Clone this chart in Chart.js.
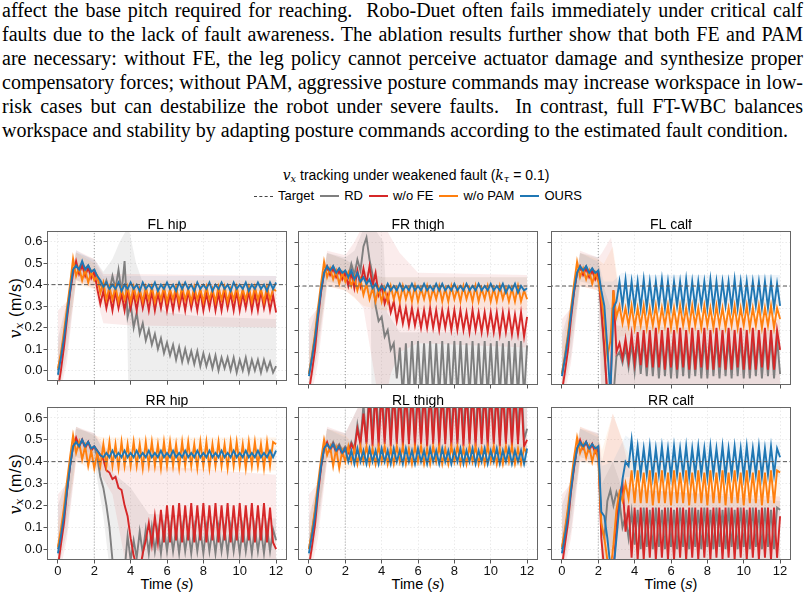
<!DOCTYPE html>
<html>
<head>
<meta charset="utf-8">
<script src="https://cdn.jsdelivr.net/npm/chart.js"></script>
<style>
  html,body{margin:0;padding:0;background:#fff;}
  body{width:806px;height:598px;overflow:hidden;position:relative;font-family:"Liberation Sans",Arial,sans-serif;color:#000;}
  #para{position:absolute;left:2px;top:-2px;width:801px;font-family:"Liberation Serif","Times New Roman",serif;font-size:20px;line-height:24px;}
  #para div{text-align:justify;text-align-last:justify;}
  #para div.last{text-align-last:left;}
  #suptitle{position:absolute;left:0;width:832px;top:166px;text-align:center;font-size:14px;line-height:18px;white-space:nowrap;}
  .m{font-family:"DejaVu Serif","Liberation Serif",serif;font-style:italic;}
  sub{font-size:0.7em;vertical-align:-0.2em;}
  #legend{position:absolute;left:0;width:836px;top:187px;display:flex;justify-content:center;align-items:center;font-size:13px;line-height:18px;white-space:nowrap;}
  .item{display:flex;align-items:center;margin:0 3px;}
  .sw{display:inline-block;width:19px;height:0;margin-right:5px;}
  .ylab{position:absolute;left:16px;transform:translate(-50%,-50%) rotate(-90deg);font-size:16px;letter-spacing:0.6px;white-space:nowrap;}
  .xlab{position:absolute;transform:translate(-50%,-50%);font-size:14.5px;white-space:nowrap;}
  canvas{position:absolute;}
</style>
</head>
<body>
<div id="para">
<div>affect the base pitch required for reaching.&nbsp; Robo-Duet often fails immediately under critical calf</div>
<div>faults due to the lack of fault awareness. The ablation results further show that both FE and PAM</div>
<div>are necessary: without FE, the leg policy cannot perceive actuator damage and synthesize proper</div>
<div>compensatory forces; without PAM, aggressive posture commands may increase workspace in low-</div>
<div>risk cases but can destabilize the robot under severe faults.&nbsp; In contrast, full FT-WBC balances</div>
<div class="last">workspace and stability by adapting posture commands according to the estimated fault condition.</div>
</div>

<div id="suptitle"><span class="m">v</span><sub class="m">x</sub> tracking under weakened fault (<span class="m">k</span><sub class="m">τ</sub> = 0.1)</div>
<div id="legend"></div>
<div class="ylab" style="top:308px"><span class="m">v</span><sub class="m">x</sub> (m/s)</div>
<div class="ylab" style="top:484px"><span class="m">v</span><sub class="m">x</sub> (m/s)</div>
<div class="xlab" style="left:167px;top:584px">Time (<span class="m">s</span>)</div>
<div class="xlab" style="left:418px;top:584px">Time (<span class="m">s</span>)</div>
<div class="xlab" style="left:671px;top:584px">Time (<span class="m">s</span>)</div>

<script>
// ---------------- data ----------------
const TIME_STEP = 1/6;              // sampling of the series below (s)
const X_TICKS = [0,2,4,6,8,10,12];
const Y_TICKS = [0,0.1,0.2,0.3,0.4,0.5,0.6];
const TARGET_VX = 0.4;
const FAULT_TIME = 2;
const PANEL_TITLES = ['FL hip','FR thigh','FL calf','RR hip','RL thigh','RR calf'];
const SERIES_NAMES = ['RD','w/o FE','w/o PAM','OURS'];

// ---- FL hip ----
const flHipRD = [0.00,0.07,0.16,0.27,0.38,0.47,0.49,0.47,0.50,0.47,0.49,0.46,0.47,
0.43,0.40,0.38,0.42,0.37,0.44,0.38,0.47,0.36,0.51,0.25,0.31,
0.20,0.27,0.17,0.22,0.14,0.19,0.12,0.17,0.10,0.15,0.08,0.13,
0.07,0.12,0.05,0.11,0.04,0.10,0.04,0.09,0.03,0.09,0.02,0.08,
0.02,0.07,0.01,0.07,0.00,0.06,0.01,0.06,0.00,0.06,-0.01,0.05,
0.00,0.06,-0.01,0.05,0.00,0.05,-0.01,0.05,0.00,0.04,-0.01,0.02];
const flHipFE = [-0.09,0.00,0.11,0.24,0.36,0.45,0.51,0.45,0.49,0.44,0.48,0.43,0.46,
0.38,0.31,0.37,0.29,0.36,0.28,0.37,0.29,0.36,0.28,0.37,0.29,
0.36,0.28,0.37,0.29,0.36,0.28,0.37,0.28,0.36,0.29,0.37,0.28,
0.36,0.28,0.37,0.29,0.36,0.28,0.37,0.29,0.36,0.28,0.37,0.28,
0.36,0.29,0.37,0.28,0.36,0.28,0.37,0.29,0.36,0.28,0.37,0.28,
0.36,0.29,0.37,0.28,0.36,0.28,0.37,0.29,0.36,0.28,0.35,0.27];
const flHipPAM = [0.01,0.08,0.18,0.29,0.40,0.52,0.44,0.48,0.42,0.47,0.41,0.46,0.42,
0.44,0.36,0.41,0.33,0.39,0.33,0.39,0.32,0.38,0.33,0.39,0.32,
0.39,0.33,0.38,0.32,0.39,0.33,0.39,0.32,0.38,0.33,0.39,0.32,
0.38,0.33,0.39,0.32,0.39,0.33,0.38,0.32,0.39,0.33,0.38,0.32,
0.39,0.33,0.38,0.32,0.39,0.33,0.39,0.32,0.38,0.33,0.39,0.32,
0.38,0.33,0.39,0.32,0.39,0.33,0.38,0.32,0.39,0.33,0.38,0.37];
const flHipOURS = [-0.02,0.06,0.15,0.26,0.37,0.47,0.49,0.47,0.51,0.47,0.49,0.46,0.47,
0.44,0.42,0.39,0.41,0.38,0.40,0.38,0.41,0.37,0.40,0.38,0.41,
0.38,0.40,0.37,0.41,0.38,0.40,0.38,0.41,0.37,0.40,0.38,0.41,
0.38,0.40,0.37,0.41,0.38,0.41,0.38,0.40,0.37,0.41,0.38,0.40,
0.38,0.41,0.37,0.40,0.38,0.41,0.38,0.40,0.37,0.41,0.38,0.40,
0.38,0.41,0.37,0.40,0.38,0.41,0.38,0.40,0.37,0.41,0.38,0.41];
// bands: [time, low, high]
const flHipRDBand = [[0,-0.12,0.15],[0.5,0.08,0.32],[1,0.42,0.55],[2,0.40,0.52],[2.5,0.35,0.46],[3,0.33,0.52],[3.4,0.32,0.60],[3.8,0.24,0.66],[3.9,-0.2,0.66],[4.3,-0.2,0.50],[5,-0.2,0.33],[6,-0.2,0.27],[8,-0.2,0.25],[12,-0.2,0.24]];
const flHipFEBand = [[0,-0.15,0.28],[0.5,0.04,0.32],[1,0.42,0.56],[2,0.38,0.52],[2.5,0.22,0.45],[4,0.21,0.45],[12,0.20,0.44]];
const flHipPAMBand = [[0,-0.06,0.10],[0.5,0.15,0.32],[1,0.40,0.55],[2,0.38,0.50],[2.5,0.30,0.42],[12,0.30,0.42]];
const flHipOURSBand = [[0,-0.05,0.04],[0.5,0.15,0.28],[1,0.45,0.56],[2,0.44,0.51],[2.5,0.37,0.44],[12,0.37,0.44]];

// ---- FR thigh ----
const frThighRD = [0.00,0.08,0.17,0.28,0.38,0.46,0.48,0.46,0.49,0.46,0.48,0.45,0.47,
0.44,0.50,0.45,0.52,0.47,0.58,0.62,0.52,0.45,0.31,0.24,0.26,
0.17,0.20,0.11,0.14,-0.02,0.12,-0.10,0.14,-0.10,0.15,-0.10,0.15,
-0.10,0.14,-0.10,0.15,-0.10,0.14,-0.10,0.15,-0.10,0.14,-0.10,0.15,
-0.10,0.15,-0.10,0.14,-0.10,0.15,-0.10,0.14,-0.10,0.15,-0.10,0.14,
-0.10,0.15,-0.10,0.14,-0.10,0.15,-0.10,0.14,-0.10,0.15,-0.10,0.13];
const frThighFE = [-0.08,0.01,0.11,0.25,0.37,0.46,0.49,0.45,0.48,0.44,0.47,0.43,0.46,
0.40,0.46,0.39,0.47,0.40,0.48,0.41,0.49,0.40,0.46,0.36,0.40,
0.32,0.36,0.28,0.33,0.24,0.31,0.23,0.30,0.22,0.30,0.22,0.29,
0.21,0.29,0.21,0.30,0.21,0.29,0.20,0.29,0.21,0.29,0.20,0.29,
0.20,0.29,0.20,0.28,0.19,0.29,0.20,0.28,0.19,0.28,0.19,0.28,
0.19,0.28,0.18,0.28,0.19,0.28,0.18,0.27,0.18,0.28,0.17,0.26];
const frThighPAM = [0.00,0.08,0.18,0.30,0.41,0.51,0.44,0.48,0.43,0.47,0.41,0.46,0.42,
0.46,0.40,0.44,0.38,0.43,0.36,0.41,0.34,0.39,0.33,0.39,0.33,
0.39,0.33,0.40,0.34,0.39,0.33,0.40,0.34,0.39,0.33,0.40,0.33,
0.39,0.34,0.40,0.33,0.39,0.34,0.40,0.33,0.39,0.33,0.40,0.34,
0.39,0.33,0.40,0.34,0.39,0.33,0.40,0.33,0.39,0.34,0.40,0.33,
0.39,0.33,0.40,0.34,0.39,0.33,0.39,0.33,0.40,0.33,0.38,0.34];
const frThighOURS = [-0.01,0.07,0.16,0.27,0.38,0.46,0.49,0.47,0.49,0.46,0.48,0.46,0.47,
0.44,0.47,0.43,0.46,0.42,0.44,0.41,0.43,0.39,0.41,0.38,0.40,
0.38,0.41,0.38,0.40,0.38,0.41,0.38,0.40,0.38,0.41,0.38,0.40,
0.38,0.41,0.38,0.40,0.38,0.41,0.38,0.41,0.38,0.40,0.38,0.41,
0.38,0.40,0.38,0.41,0.38,0.40,0.38,0.41,0.38,0.40,0.38,0.41,
0.38,0.40,0.38,0.41,0.37,0.40,0.38,0.41,0.37,0.40,0.38,0.39];
const frThighRDBand = [[0,-0.1,0.18],[0.5,0.1,0.32],[1,0.42,0.55],[2,0.40,0.53],[2.5,0.40,0.56],[3,0.42,0.66],[3.4,0.35,0.68],[3.45,-0.2,0.68],[4.1,-0.2,0.60],[4.3,-0.2,0.28],[5,-0.1,0.19],[12,-0.1,0.19]];
const frThighFEBand = [[0,-0.15,0.25],[0.5,0.05,0.30],[1,0.40,0.56],[2,0.38,0.54],[2.5,0.35,0.60],[3,0.30,0.68],[3.5,0.05,0.70],[4,-0.2,0.70],[4.5,0.0,0.62],[5,0.10,0.55],[6,0.14,0.46],[12,0.12,0.45]];
const frThighPAMBand = [[0,-0.06,0.10],[0.5,0.15,0.32],[1,0.40,0.55],[2,0.38,0.52],[3,0.31,0.47],[4,0.29,0.44],[12,0.29,0.44]];
const frThighOURSBand = [[0,-0.05,0.05],[0.5,0.15,0.28],[1,0.44,0.55],[2,0.43,0.52],[3,0.37,0.47],[4,0.36,0.44],[12,0.36,0.44]];

// ---- FL calf ----
const flCalfRD = [0.00,0.08,0.17,0.28,0.38,0.46,0.48,0.46,0.49,0.46,0.48,0.45,0.47,
0.28,0.10,-0.10,-0.10,-0.10,0.08,0.10,0.05,0.12,0.03,0.14,0.01,
0.15,0.00,0.16,-0.01,0.16,-0.01,0.17,-0.02,0.16,-0.01,0.17,-0.02,
0.17,-0.02,0.16,-0.01,0.17,-0.02,0.16,-0.01,0.17,-0.02,0.16,-0.02,
0.17,-0.01,0.16,-0.02,0.17,-0.01,0.16,-0.02,0.17,-0.01,0.16,-0.02,
0.17,-0.02,0.16,-0.01,0.17,-0.02,0.16,-0.01,0.17,-0.02,0.16,0.00];
const flCalfFE = [-0.08,0.01,0.11,0.25,0.37,0.46,0.49,0.45,0.48,0.44,0.47,0.43,0.46,
0.30,0.12,-0.10,-0.10,0.38,0.10,0.14,0.07,0.16,0.06,0.18,0.05,
0.19,0.04,0.20,0.03,0.20,0.03,0.21,0.03,0.20,0.02,0.21,0.03,
0.20,0.02,0.21,0.03,0.20,0.02,0.21,0.02,0.20,0.03,0.21,0.02,
0.20,0.02,0.21,0.03,0.20,0.02,0.21,0.02,0.20,0.03,0.21,0.02,
0.20,0.02,0.21,0.02,0.20,0.03,0.21,0.02,0.20,0.02,0.20,0.11];
const flCalfPAM = [0.00,0.08,0.18,0.30,0.41,0.51,0.44,0.48,0.43,0.47,0.41,0.46,0.42,
0.35,0.24,0.08,0.15,0.38,0.26,0.31,0.23,0.30,0.22,0.31,0.21,
0.30,0.22,0.31,0.21,0.30,0.22,0.31,0.21,0.30,0.22,0.31,0.21,
0.30,0.21,0.31,0.22,0.30,0.21,0.31,0.22,0.30,0.21,0.31,0.22,
0.30,0.21,0.31,0.22,0.30,0.21,0.30,0.22,0.31,0.21,0.30,0.22,
0.31,0.21,0.30,0.22,0.31,0.21,0.30,0.22,0.31,0.21,0.30,0.25];
const flCalfOURS = [-0.01,0.07,0.16,0.27,0.38,0.46,0.49,0.47,0.49,0.46,0.48,0.46,0.47,
0.38,0.31,0.12,-0.10,0.30,0.33,0.42,0.31,0.43,0.30,0.42,0.30,
0.42,0.30,0.43,0.30,0.42,0.30,0.42,0.31,0.43,0.30,0.42,0.30,
0.42,0.31,0.42,0.30,0.43,0.30,0.42,0.30,0.42,0.31,0.42,0.30,
0.43,0.30,0.42,0.30,0.42,0.31,0.42,0.30,0.43,0.30,0.42,0.30,
0.42,0.30,0.42,0.31,0.42,0.30,0.42,0.30,0.42,0.30,0.41,0.31];
const flCalfRDBand = [[0,-0.1,0.18],[0.5,0.08,0.32],[1,0.42,0.55],[2,0.40,0.53],[2.2,-0.2,0.42],[3,-0.2,0.22],[12,-0.2,0.20]];
const flCalfFEBand = [[0,-0.15,0.25],[0.5,0.05,0.30],[1,0.40,0.56],[2,0.38,0.53],[2.2,-0.2,0.55],[2.7,-0.2,0.62],[3.2,-0.2,0.33],[4,-0.1,0.26],[12,-0.1,0.25]];
const flCalfPAMBand = [[0,-0.06,0.12],[0.5,0.15,0.32],[1,0.40,0.55],[2,0.38,0.52],[2.3,0.0,0.50],[2.8,0.05,0.58],[3.2,0.17,0.36],[4,0.18,0.34],[12,0.18,0.34]];
const flCalfOURSBand = [[0,-0.05,0.06],[0.5,0.15,0.28],[1,0.44,0.55],[2,0.43,0.51],[2.3,0.05,0.42],[2.8,0.15,0.42],[3.3,0.31,0.46],[4,0.31,0.45],[12,0.31,0.45]];

// ---- RR hip ----
const rrHipRD = [0.00,0.07,0.16,0.27,0.38,0.47,0.49,0.47,0.50,0.47,0.49,0.46,0.47,
0.42,0.33,0.28,0.20,0.10,-0.05,-0.10,-0.10,-0.10,-0.10,0.06,-0.05,
0.04,-0.04,0.08,-0.02,0.09,-0.02,0.10,-0.01,0.09,-0.02,0.10,-0.01,
0.10,-0.01,0.09,-0.02,0.10,-0.01,0.09,-0.02,0.10,-0.01,0.09,-0.02,
0.10,-0.01,0.09,-0.02,0.10,-0.01,0.09,-0.02,0.10,-0.01,0.09,-0.02,
0.10,-0.01,0.09,-0.02,0.10,-0.01,0.09,-0.02,0.10,-0.01,0.09,0.04];
const rrHipFE = [-0.08,0.02,0.12,0.26,0.38,0.47,0.51,0.47,0.50,0.46,0.49,0.45,0.47,
0.45,0.43,0.41,0.36,0.35,0.32,0.33,0.28,0.27,0.20,0.15,0.05,
-0.03,-0.08,-0.10,-0.02,0.04,0.12,0.02,0.15,0.03,0.18,0.03,0.20,
0.03,0.20,0.04,0.21,0.03,0.20,0.04,0.21,0.03,0.20,0.04,0.21,
0.03,0.20,0.04,0.21,0.03,0.20,0.04,0.21,0.03,0.20,0.04,0.21,
0.03,0.20,0.04,0.21,0.03,0.20,0.04,0.21,0.03,0.19,0.03,0.00];
const rrHipPAM = [0.01,0.09,0.19,0.31,0.42,0.52,0.44,0.49,0.41,0.47,0.38,0.45,0.37,
0.44,0.38,0.48,0.38,0.49,0.38,0.48,0.37,0.49,0.38,0.48,0.38,
0.49,0.38,0.48,0.37,0.49,0.38,0.49,0.38,0.48,0.37,0.49,0.38,
0.49,0.38,0.48,0.37,0.49,0.38,0.49,0.38,0.48,0.37,0.49,0.38,
0.49,0.37,0.48,0.38,0.49,0.38,0.48,0.37,0.49,0.38,0.49,0.38,
0.48,0.37,0.49,0.38,0.49,0.38,0.48,0.37,0.49,0.38,0.49,0.48];
const rrHipOURS = [-0.02,0.06,0.15,0.27,0.38,0.47,0.49,0.47,0.50,0.47,0.49,0.46,0.47,
0.45,0.43,0.42,0.44,0.42,0.45,0.42,0.44,0.42,0.45,0.42,0.44,
0.42,0.45,0.42,0.44,0.42,0.45,0.42,0.44,0.42,0.45,0.42,0.44,
0.42,0.45,0.42,0.44,0.42,0.45,0.42,0.44,0.42,0.45,0.42,0.44,
0.42,0.45,0.42,0.44,0.42,0.45,0.42,0.44,0.42,0.45,0.42,0.44,
0.42,0.45,0.42,0.44,0.42,0.45,0.42,0.44,0.42,0.45,0.42,0.45];
const rrHipRDBand = [[0,-0.1,0.2],[0.5,0.08,0.32],[1,0.42,0.55],[2,0.40,0.53],[2.5,0.15,0.45],[3,-0.2,0.35],[4,-0.2,0.28],[5,-0.1,0.16],[12,-0.1,0.14]];
const rrHipFEBand = [[0,-0.15,0.25],[0.5,0.05,0.30],[1,0.40,0.56],[2,0.40,0.53],[2.5,0.32,0.48],[3,0.25,0.42],[3.8,-0.1,0.38],[4.5,-0.2,0.40],[5.5,-0.05,0.38],[12,-0.05,0.34]];
const rrHipPAMBand = [[0,-0.06,0.12],[0.5,0.15,0.32],[1,0.40,0.56],[2,0.36,0.52],[2.5,0.36,0.51],[12,0.36,0.51]];
const rrHipOURSBand = [[0,-0.05,0.06],[0.5,0.15,0.28],[1,0.45,0.56],[2,0.44,0.52],[2.5,0.41,0.46],[12,0.41,0.46]];

// ---- RL thigh ----
const rlThighRD = [0.00,0.08,0.17,0.28,0.38,0.46,0.48,0.46,0.49,0.46,0.48,0.45,0.47,
0.45,0.49,0.46,0.57,0.49,0.66,0.49,0.78,0.50,0.80,0.50,0.80,
0.51,0.79,0.50,0.81,0.50,0.80,0.51,0.80,0.50,0.79,0.50,0.80,
0.51,0.80,0.50,0.79,0.50,0.81,0.51,0.80,0.50,0.80,0.50,0.79,
0.50,0.80,0.51,0.80,0.50,0.79,0.50,0.81,0.51,0.80,0.50,0.80,
0.50,0.79,0.51,0.80,0.50,0.80,0.50,0.81,0.51,0.80,0.50,0.55];
const rlThighFE = [-0.08,0.01,0.11,0.25,0.37,0.46,0.49,0.45,0.48,0.44,0.47,0.43,0.46,
0.44,0.48,0.45,0.55,0.48,0.62,0.48,0.70,0.47,0.72,0.47,0.72,
0.48,0.72,0.47,0.72,0.48,0.72,0.47,0.72,0.48,0.72,0.47,0.72,
0.48,0.72,0.47,0.72,0.48,0.72,0.47,0.72,0.48,0.72,0.47,0.72,
0.48,0.72,0.47,0.72,0.48,0.72,0.47,0.72,0.48,0.72,0.47,0.72,
0.48,0.72,0.47,0.72,0.48,0.72,0.47,0.72,0.48,0.72,0.47,0.50];
const rlThighPAM = [0.00,0.08,0.18,0.30,0.41,0.50,0.43,0.47,0.38,0.46,0.37,0.45,0.40,
0.47,0.40,0.46,0.39,0.47,0.40,0.47,0.39,0.46,0.39,0.47,0.40,
0.47,0.39,0.46,0.39,0.47,0.40,0.47,0.39,0.46,0.39,0.47,0.40,
0.47,0.39,0.46,0.39,0.47,0.40,0.47,0.39,0.46,0.39,0.47,0.40,
0.47,0.39,0.46,0.39,0.47,0.40,0.47,0.39,0.46,0.39,0.47,0.40,
0.47,0.39,0.46,0.39,0.47,0.40,0.47,0.39,0.46,0.39,0.46,0.44];
const rlThighOURS = [-0.02,0.06,0.15,0.27,0.38,0.46,0.48,0.46,0.48,0.45,0.47,0.44,0.46,
0.40,0.45,0.39,0.46,0.40,0.45,0.39,0.46,0.40,0.45,0.39,0.46,
0.40,0.45,0.39,0.46,0.40,0.45,0.39,0.46,0.40,0.45,0.39,0.46,
0.40,0.45,0.39,0.46,0.40,0.45,0.39,0.46,0.40,0.45,0.39,0.45,
0.40,0.46,0.39,0.45,0.40,0.46,0.39,0.45,0.40,0.46,0.39,0.45,
0.40,0.46,0.39,0.45,0.40,0.46,0.39,0.45,0.40,0.45,0.39,0.46];
const rlThighRDBand = [[0,-0.1,0.15],[0.5,0.1,0.3],[1,0.42,0.55],[2,0.40,0.53],[3,0.45,0.70],[12,0.45,0.70]];
const rlThighFEBand = [[0,-0.15,0.25],[0.5,0.05,0.30],[1,0.40,0.56],[2,0.40,0.53],[3,0.44,0.70],[12,0.44,0.70]];
const rlThighPAMBand = [[0,-0.06,0.12],[0.5,0.15,0.32],[1,0.40,0.55],[2,0.36,0.52],[2.5,0.38,0.48],[12,0.38,0.48]];
const rlThighOURSBand = [[0,-0.05,0.06],[0.5,0.15,0.28],[1,0.44,0.55],[2,0.43,0.51],[2.5,0.38,0.47],[12,0.38,0.47]];

// ---- RR calf ----
const rrCalfRD = [0.00,0.08,0.17,0.28,0.38,0.46,0.48,0.46,0.49,0.46,0.48,0.45,0.47,
0.10,0.05,0.22,0.27,0.20,0.26,0.22,0.10,0.15,0.05,0.17,0.02,
0.18,0.00,0.19,0.01,0.18,0.00,0.19,0.01,0.18,0.00,0.19,0.01,
0.18,0.00,0.19,0.01,0.18,0.00,0.19,0.01,0.18,0.00,0.19,0.01,
0.18,0.00,0.19,0.01,0.18,0.00,0.19,0.01,0.18,0.00,0.19,0.01,
0.18,0.00,0.19,0.01,0.18,0.00,0.19,0.01,0.18,0.00,0.19,0.18];
const rrCalfFE = [-0.08,0.02,0.12,0.26,0.37,0.46,0.50,0.46,0.49,0.45,0.48,0.44,0.46,
0.05,-0.10,-0.10,-0.10,-0.10,0.10,0.25,0.30,0.08,0.20,-0.04,0.19,
-0.05,0.19,-0.05,0.19,-0.04,0.19,-0.05,0.19,-0.04,0.19,-0.05,0.19,
-0.05,0.19,-0.04,0.19,-0.05,0.19,-0.04,0.19,-0.05,0.19,-0.04,0.19,
-0.05,0.19,-0.04,0.19,-0.05,0.19,-0.04,0.19,-0.05,0.19,-0.04,0.19,
-0.05,0.19,-0.04,0.19,-0.05,0.19,-0.04,0.19,-0.05,0.19,-0.04,0.15];
const rrCalfPAM = [0.01,0.09,0.19,0.31,0.42,0.51,0.44,0.48,0.42,0.47,0.40,0.46,0.41,
0.12,0.05,-0.05,-0.10,0.02,0.18,0.26,0.22,0.30,0.23,0.36,0.21,
0.36,0.21,0.35,0.21,0.36,0.20,0.35,0.21,0.36,0.21,0.35,0.20,
0.36,0.21,0.35,0.21,0.36,0.20,0.35,0.21,0.36,0.21,0.35,0.20,
0.36,0.21,0.35,0.21,0.36,0.20,0.35,0.21,0.36,0.21,0.35,0.20,
0.36,0.21,0.35,0.21,0.36,0.20,0.35,0.21,0.36,0.21,0.36,0.35];
const rrCalfOURS = [-0.02,0.06,0.15,0.27,0.38,0.46,0.49,0.47,0.49,0.46,0.48,0.46,0.47,
0.17,0.15,0.05,-0.08,-0.10,0.05,0.20,0.32,0.40,0.38,0.50,0.35,
0.47,0.34,0.46,0.34,0.47,0.33,0.46,0.34,0.47,0.34,0.46,0.33,
0.47,0.34,0.46,0.34,0.47,0.33,0.46,0.34,0.47,0.34,0.46,0.33,
0.47,0.34,0.46,0.34,0.47,0.33,0.46,0.34,0.47,0.34,0.46,0.33,
0.47,0.34,0.46,0.34,0.47,0.33,0.46,0.34,0.47,0.34,0.46,0.42];
const rrCalfRDBand = [[0,-0.1,0.2],[0.5,0.08,0.32],[1,0.42,0.55],[2,0.40,0.53],[2.2,-0.1,0.30],[2.8,0.0,0.40],[3.3,-0.1,0.28],[12,-0.1,0.22]];
const rrCalfFEBand = [[0,-0.15,0.25],[0.5,0.05,0.30],[1,0.40,0.56],[2,0.40,0.53],[2.2,-0.2,0.40],[2.8,-0.2,0.62],[3.3,-0.1,0.50],[4,-0.1,0.27],[12,-0.1,0.24]];
const rrCalfPAMBand = [[0,-0.06,0.12],[0.5,0.15,0.32],[1,0.40,0.56],[2,0.38,0.52],[2.2,-0.1,0.45],[2.8,0.0,0.62],[3.5,0.17,0.46],[4,0.19,0.39],[12,0.19,0.38]];
const rrCalfOURSBand = [[0,-0.05,0.06],[0.5,0.15,0.28],[1,0.44,0.55],[2,0.43,0.51],[2.2,0.05,0.38],[2.8,0.0,0.40],[3.5,0.33,0.52],[4,0.33,0.49],[12,0.33,0.49]];

// ---------------- styling / layout ----------------
const SERIES = [
  [flHipRD, flHipFE, flHipPAM, flHipOURS],
  [frThighRD, frThighFE, frThighPAM, frThighOURS],
  [flCalfRD, flCalfFE, flCalfPAM, flCalfOURS],
  [rrHipRD, rrHipFE, rrHipPAM, rrHipOURS],
  [rlThighRD, rlThighFE, rlThighPAM, rlThighOURS],
  [rrCalfRD, rrCalfFE, rrCalfPAM, rrCalfOURS]
];
const BANDS = [
  [flHipRDBand, flHipFEBand, flHipPAMBand, flHipOURSBand],
  [frThighRDBand, frThighFEBand, frThighPAMBand, frThighOURSBand],
  [flCalfRDBand, flCalfFEBand, flCalfPAMBand, flCalfOURSBand],
  [rrHipRDBand, rrHipFEBand, rrHipPAMBand, rrHipOURSBand],
  [rlThighRDBand, rlThighFEBand, rlThighPAMBand, rlThighOURSBand],
  [rrCalfRDBand, rrCalfFEBand, rrCalfPAMBand, rrCalfOURSBand]
];
const LINE_COLORS = ['#7f7f7f','#d62728','#ff7f0e','#1f77b4'];
const BAND_COLORS = ['rgba(127,127,127,0.13)','rgba(214,39,40,0.09)','rgba(255,127,14,0.08)','rgba(31,119,180,0.07)'];

const FRAME_LEFT = [47, 298, 551];
const FRAME_TOP = [231, 407];
const FRAME_W = 240;
const FRAME_H = [154, 153];

// legend (HTML)
const legend = document.getElementById('legend');
legend.innerHTML =
  '<span class="item"><span class="sw" style="border-top:1.2px dashed #444"></span>Target</span>' +
  SERIES_NAMES.map((n,i)=>`<span class="item"><span class="sw" style="border-top:2px solid ${LINE_COLORS[i]}"></span>${n}</span>`).join('');

Chart.defaults.font.family = '"Liberation Sans", Arial, sans-serif';

const framePlugin = {
  id: 'frame',
  afterDraw(chart) {
    const a = chart.chartArea, ctx = chart.ctx;
    ctx.save();
    ctx.strokeStyle = '#666';
    ctx.lineWidth = 1;
    ctx.strokeRect(Math.round(a.left) + 0.5, Math.round(a.top) + 0.5,
                   Math.round(a.right - a.left) - 1, Math.round(a.bottom - a.top) - 1);
    ctx.restore();
  }
};

function toPoints(vals) { return vals.map((v, i) => ({x: i * TIME_STEP, y: v})); }
function bandPoints(rows, k) { return rows.map(r => ({x: r[0], y: r[k]})); }

function makePanel(p) {
  const row = Math.floor(p / 3), col = p % 3;
  const YW = 44, RP = 12, TH = 12, XH = row ? 24 : 5;
  const W = YW + FRAME_W + RP, H = TH + FRAME_H[row] + XH;
  const cv = document.createElement('canvas');
  cv.width = W; cv.height = H;
  cv.style.left = (FRAME_LEFT[col] - YW) + 'px';
  cv.style.top = (FRAME_TOP[row] - TH) + 'px';
  cv.style.width = W + 'px'; cv.style.height = H + 'px';
  document.body.appendChild(cv);

  const ds = [];
  BANDS[p].forEach((rows, j) => {
    const idx = ds.length;
    ds.push({data: bandPoints(rows, 2), borderWidth: 0, pointRadius: 0, fill: idx + 1,
             backgroundColor: BAND_COLORS[j], order: 30 - j * 2, clip: 0});
    ds.push({data: bandPoints(rows, 1), borderWidth: 0, pointRadius: 0, fill: false,
             order: 29 - j * 2, clip: 0});
  });
  ds.push({data: [{x: FAULT_TIME, y: -1}, {x: FAULT_TIME, y: 2}], borderColor: '#9a9a9a',
           borderWidth: 1, borderDash: [1, 2], pointRadius: 0, fill: false, order: 15, clip: 0});
  SERIES[p].forEach((vals, j) => {
    ds.push({label: SERIES_NAMES[j], data: toPoints(vals), borderColor: LINE_COLORS[j],
             borderWidth: 1.9, pointRadius: 0, fill: false, order: 10 - j, clip: 0});
  });
  ds.push({data: [{x: -5, y: TARGET_VX}, {x: 20, y: TARGET_VX}], borderColor: '#555',
           borderWidth: 1, borderDash: [4, 2.5], pointRadius: 0, fill: false, order: 1, clip: 0});

  new Chart(cv, {
    type: 'line',
    data: {datasets: ds},
    options: {
      responsive: false, animation: false, devicePixelRatio: 1,
      layout: {padding: {left: 0, right: RP, top: 0, bottom: 0}},
      elements: {line: {tension: 0}},
      plugins: {
        legend: {display: false}, tooltip: {enabled: false},
        title: {display: true, text: PANEL_TITLES[p], fullSize: false, color: '#000', padding: 0,
                font: {size: 14, weight: 'normal', lineHeight: '12px'}}
      },
      scales: {
        x: {
          type: 'linear', min: -0.6, max: 12.6,
          afterBuildTicks: s => { s.ticks = X_TICKS.map(v => ({value: v})); },
          afterFit: s => { s.height = XH; },
          grid: {color: '#e6e6e6', lineWidth: 0.8, drawTicks: true, tickLength: 3.5, tickColor: '#555', tickWidth: 1},
          border: {display: false, dash: [1.5, 2]},
          ticks: {display: row === 1, color: '#111', padding: 0, maxRotation: 0, autoSkip: false,
                  font: {size: 13}, callback: v => String(v)}
        },
        y: {
          type: 'linear', min: -0.05, max: 0.65,
          afterBuildTicks: s => { s.ticks = Y_TICKS.map(v => ({value: v})); },
          afterFit: s => { s.width = YW; },
          grid: {color: '#e6e6e6', lineWidth: 0.8, drawTicks: true, tickLength: 3.5, tickColor: '#555', tickWidth: 1},
          border: {display: false, dash: [1.5, 2]},
          ticks: {display: col === 0, color: '#111', padding: 1, autoSkip: false,
                  font: {size: 13}, callback: v => v.toFixed(1)}
        }
      }
    },
    plugins: [framePlugin]
  });
}

for (let p = 0; p < 6; p++) makePanel(p);
</script>
</body>
</html>
